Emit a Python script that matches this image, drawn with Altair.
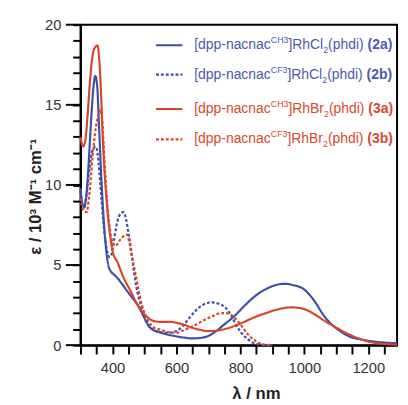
import altair as alt
import pandas as pd

# ---- data ----
series_names = ["2a", "2b", "3a", "3b"]

wl_2a = [300, 305, 312, 318, 325, 333, 340, 346, 352, 358, 365, 372, 380, 388, 395, 405, 415, 425, 445, 460,
         476, 490, 505, 520, 548, 575, 600, 625, 650, 675, 700, 722, 750, 783, 815, 845, 880, 910, 937, 965,
         998, 1030, 1060, 1085, 1111, 1140, 1182, 1230, 1290]
eps_2a = [9.8, 8.9, 8.6, 9.3, 11.2, 14.0, 16.0, 16.8, 16.2, 13.6, 10.5, 8.0, 6.0, 4.9, 4.6, 4.4, 4.2, 3.95, 3.4, 3.0,
          2.6, 2.1, 1.5, 1.05, 0.8, 0.65, 0.55, 0.47, 0.42, 0.45, 0.58, 0.85, 1.3, 1.85, 2.5, 3.05, 3.5, 3.75, 3.83, 3.75,
          3.5, 2.8, 1.87, 1.3, 0.89, 0.55, 0.34, 0.2, 0.12]

wl_2b = [300, 305, 311, 318, 328, 338, 347, 353, 359, 366, 375, 383, 390, 396, 405, 415, 425, 434, 442, 450,
         458, 466, 475, 487, 497, 507, 528, 550, 570, 599, 620, 640, 660, 681, 700, 712, 730, 753, 770, 783,
         800, 824, 845, 870, 900]
eps_2b = [9.6, 8.9, 8.7, 9.3, 11.0, 12.2, 12.4, 12.0, 10.8, 9.0, 7.0, 5.9, 5.5, 5.6, 6.6, 7.7, 8.2, 8.3, 7.9, 7.0,
          6.0, 4.75, 3.6, 2.6, 1.9, 1.38, 0.97, 0.8, 0.77, 0.87, 1.2, 1.69, 2.15, 2.5, 2.65, 2.67, 2.6, 2.35, 1.9, 1.4,
          0.85, 0.36, 0.1, 0.02, 0.0]

wl_3a = [300, 308, 315, 322, 330, 338, 346, 353, 358, 364, 370, 378, 388, 395, 401, 415, 435, 456, 476, 497,
         515, 530, 555, 580, 600, 620, 645, 671, 700, 730, 763, 800, 845, 880, 920, 961, 1000, 1030, 1060, 1095,
         1130, 1170, 1213, 1260, 1290]
eps_3a = [13.0, 12.4, 12.8, 14.3, 16.6, 18.1, 18.6, 18.7, 18.0, 15.8, 12.7, 10.0, 7.6, 6.5, 5.8, 5.2, 4.2, 3.4, 2.6, 2.0,
          1.65, 1.5, 1.45, 1.45, 1.4, 1.3, 1.12, 0.97, 0.88, 0.92, 1.07, 1.35, 1.75, 2.0, 2.25, 2.36, 2.25, 1.95, 1.56, 1.15,
          0.77, 0.42, 0.17, 0.06, 0.03]

wl_3b = [300, 307, 319, 328, 338, 348, 356, 362, 368, 375, 383, 392, 400, 407, 415, 425, 437, 445, 452, 460,
         471, 482, 492, 502, 512, 530, 548, 575, 599, 630, 661, 690, 712, 740, 755, 770, 783, 800, 824, 845,
         870, 900]
eps_3b = [9.2, 8.5, 8.3, 9.5, 11.8, 13.6, 14.4, 14.7, 14.0, 11.5, 9.0, 7.2, 6.4, 6.2, 6.3, 6.6, 6.85, 6.9, 6.5, 5.6,
          4.55, 3.4, 2.5, 1.9, 1.48, 1.1, 0.97, 0.82, 0.77, 1.0, 1.28, 1.6, 1.8, 2.0, 2.0, 1.9, 1.7, 1.3, 0.66, 0.3,
          0.05, 0.0]

x_tick_values = list(range(300, 1300, 50))
y_tick_values = list(range(0, 21))
y_major_ticks = [0, 5, 10, 15, 20]

legend_sup = ["CH3", "CF3", "CH3", "CF3"]
legend_metal = ["]RhCl", "]RhCl", "]RhBr", "]RhBr"]
legend_tag = ["(2a)", "(2b)", "(3a)", "(3b)"]

# ---- styles ----
BLUE = "#3d4fa6"
RED = "#da4527"
colors = [BLUE, BLUE, RED, RED]
text_colors = ["#4d59b0", "#4d59b0", "#d8492b", "#d8492b"]
dashes = [[1, 0], [3, 2], [1, 0], [3, 2]]
FONT = "Liberation Sans"

# Arial / Liberation Sans advance widths (1/1000 em) for laying out legend text segments
ADV = {"[": 278, "]": 278, "d": 556, "p": 556, "-": 333, "n": 556, "a": 556, "c": 500, "R": 722,
       "h": 556, "C": 722, "l": 222, "B": 667, "r": 333, "(": 333, ")": 333, "i": 222, " ": 278,
       "2": 556, "3": 556, "H": 722, "F": 611, "b": 611}


def text_width(s, size, bold=False):
    w = sum(ADV.get(ch, 556) for ch in s)
    if bold:
        w *= 1.06
    return w * size / 1000.0


frames = []
for name, wl, ep in zip(series_names, [wl_2a, wl_2b, wl_3a, wl_3b], [eps_2a, eps_2b, eps_3a, eps_3b]):
    frames.append(pd.DataFrame({"series": name, "wl": wl, "eps": ep}))
df = pd.concat(frames, ignore_index=True)

x_scale = alt.Scale(domain=[300, 1290], nice=False, zero=False)
y_scale = alt.Scale(domain=[0, 20], nice=False, zero=False)

y_axis = alt.Axis(
    values=y_tick_values,
    labelExpr="datum.value % 5 == 0 ? datum.label : ''",
    title="ε / 10³ M⁻¹ cm⁻¹", titleFont=FONT, titleFontSize=17, titleFontWeight="bold",
    titleColor="#222", titleX=-41, titleY=175, titleAlign="center", titleBaseline="alphabetic", titleAngle=-90,
    labelFont=FONT, labelFontSize=15, labelColor="#333", labelPadding=12,
    tickSize=8, tickWidth=2, tickColor="black", domainColor="black", domainWidth=2,
    grid=False, labelFlush=False)

lines = alt.Chart(df).mark_line(strokeWidth=2.2, interpolate="monotone").encode(
    x=alt.X("wl:Q", scale=x_scale, axis=alt.Axis(
        values=x_tick_values, format="d",
        labelExpr="datum.value % 200 == 0 ? datum.label : ''",
        title="λ / nm", titleFont=FONT, titleFontSize=17, titleFontWeight="bold",
        titleColor="#222", titleX=179, titleY=54, titleAlign="center", titleBaseline="alphabetic",
        labelFont=FONT, labelFontSize=15, labelColor="#333", labelPadding=7,
        tickSize=9, tickWidth=2, tickColor="black", domainColor="black", domainWidth=2,
        grid=False, labelFlush=False)),
    y=alt.Y("eps:Q", scale=y_scale, axis=y_axis),
    color=alt.Color("series:N", scale=alt.Scale(domain=series_names, range=colors), legend=None),
    strokeDash=alt.StrokeDash("series:N", scale=alt.Scale(domain=series_names, range=dashes), legend=None),
    order=alt.Order("wl:Q"),
)

major = alt.Chart(pd.DataFrame({"eps": y_major_ticks})).mark_rule(color="black", strokeWidth=2).encode(
    y=alt.Y("eps:Q", scale=y_scale, axis=y_axis),
    x=alt.value(-15), x2=alt.value(0),
)

# ---- hand-made legend (rich text) ----
PLOT_L, PLOT_T = 82, 21
row_y = [42, 72, 107, 138]
MAIN, SMALL = 14.2, 9.0
layers = [lines, major]
dummy = pd.DataFrame({"a": [0]})
for i in range(4):
    y = row_y[i] - PLOT_T
    layers.append(alt.Chart(dummy).mark_rule(color=colors[i], strokeWidth=2.2, strokeDash=dashes[i]).encode(
        x=alt.value(159 - PLOT_L), x2=alt.value(186 - PLOT_L), y=alt.value(y)))
    segs = [
        ("[dpp-nacnac", 0, MAIN, False),
        (legend_sup[i], -5, SMALL, False),
        (legend_metal[i], 0, MAIN, False),
        ("2", 5, SMALL, False),
        ("(phdi) ", 0, MAIN, False),
        (legend_tag[i], 0, MAIN, True),
    ]
    px = 198.0
    for txt, dy, fs, bold in segs:
        layers.append(alt.Chart(dummy).mark_text(
            text=txt, align="left", baseline="middle", font=FONT, fontSize=fs,
            fontWeight="bold" if bold else "normal", color=text_colors[i]).encode(
            x=alt.value(px - PLOT_L), y=alt.value(y + dy)))
        px += text_width(txt, fs, bold)

chart = alt.layer(*layers).properties(
    width=323, height=327,
    autosize=alt.AutoSizeParams(type="none"),
    padding={"left": 74, "top": 13, "right": 3, "bottom": 57},
).configure_view(stroke="black", strokeWidth=2)

chart.save("out.html", embed_options={"renderer": "svg", "actions": False})
